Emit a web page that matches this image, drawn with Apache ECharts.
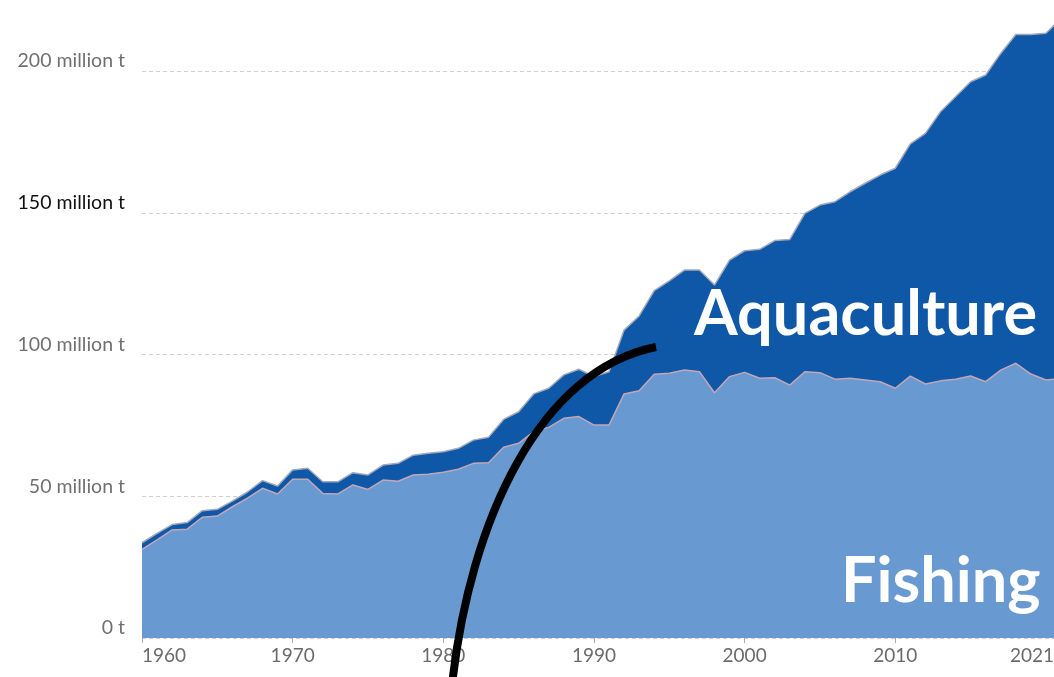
<!DOCTYPE html>
<html>
<head>
<meta charset="utf-8">
<title>Fishing and aquaculture production</title>
<script src="https://cdn.jsdelivr.net/npm/echarts@6/dist/echarts.min.js"></script>
<style>
  html, body { margin: 0; padding: 0; background: #ffffff; }
  #chart { width: 1054px; height: 677px; }
</style>
</head>
<body>
<div id="chart"></div>
<script>
// Years on the horizontal axis
const years = [];
for (let y = 1960; y <= 2021; y++) years.push(String(y));

// Capture fisheries production, million tonnes
const fishing = [
  31.3, 34.6, 38.1, 38.4, 42.6, 43.0, 46.3, 49.3, 52.8, 50.8,
  56.0, 56.0, 51.0, 50.8, 54.0, 52.4, 55.7, 55.3, 57.5, 57.8,
  58.5, 59.5, 61.6, 61.8, 67.3, 68.7, 72.8, 74.3, 77.5, 78.1,
  75.1, 75.1, 86.1, 87.2, 93.0, 93.4, 94.5, 93.9, 86.5, 92.2,
  93.7, 91.6, 91.8, 89.2, 93.9, 93.6, 91.3, 91.6, 91.0, 90.4,
  88.1, 92.4, 89.6, 90.7, 91.3, 92.4, 90.4, 94.5, 96.9, 93.1,
  91.0, 91.5
];

// Aquaculture production, million tonnes (stacked on top of fishing)
const aquaculture = [
  2.3, 2.3, 1.9, 2.3, 2.3, 2.4, 2.0, 2.2, 2.7, 2.8,
  3.3, 3.9, 4.1, 4.3, 4.3, 5.1, 5.3, 6.3, 7.0, 7.4,
  7.2, 7.4, 8.2, 9.0, 9.8, 11.1, 13.3, 13.8, 15.3, 16.7,
  17.1, 18.8, 22.5, 26.4, 29.5, 32.6, 35.3, 35.9, 38.0, 41.1,
  42.9, 45.5, 48.4, 51.4, 55.9, 59.1, 62.6, 65.8, 69.4, 72.9,
  77.6, 81.9, 88.4, 94.9, 99.6, 103.8, 108.2, 111.7, 116.0, 119.8,
  122.3, 127.0
];

// Years that carry a tick and a label
const labelledYears = ['1960', '1970', '1980', '1990', '2000', '2010', '2021'];

// Value-axis ticks (million tonnes) and their labels
const yTicks = [0, 50, 100, 150, 200];
const yTickLabels = ['0 t', '50 million t', '100 million t', '150 million t', '200 million t'];

const chart = echarts.init(document.getElementById('chart'), null, { renderer: 'canvas' });

const showYear = (idx) => labelledYears.indexOf(years[idx]) !== -1;
const lastYear = years[years.length - 1];

chart.setOption({
  animation: false,
  backgroundColor: '#ffffff',
  // the plot runs a little past the right edge, so the last year sits just off-canvas
  grid: {
    left: 142, width: 919, top: 71, bottom: 39,
    containLabel: false,
    outerBoundsMode: 'none'
  },
  xAxis: {
    type: 'category',
    data: years,
    boundaryGap: false,
    axisLine: { show: false },
    axisTick: {
      show: true,
      length: 5,
      lineStyle: { color: '#aaaaaa', width: 1 },
      interval: (idx) => showYear(idx)
    },
    axisLabel: {
      interval: (idx) => showYear(idx),
      color: '#6b6b6b',
      fontFamily: 'Lato',
      fontSize: 19,
      margin: 8,
      alignMinLabel: 'left',
      alignMaxLabel: 'right',
      // keep the final year label inside the canvas
      formatter: (v) => (v === lastYear ? '{last|' + v + '}' : v),
      rich: {
        last: { color: '#6b6b6b', fontFamily: 'Lato', fontSize: 19, padding: [0, 7, 0, 0] }
      }
    },
    splitLine: { show: false }
  },
  yAxis: {
    type: 'value',
    min: 0,
    max: 200,
    interval: 50,
    axisLine: { show: false },
    axisTick: { show: false },
    axisLabel: {
      margin: 17,
      fontFamily: 'Lato',
      fontSize: 19.5,
      verticalAlign: 'bottom',
      color: (v) => (Number(v) === 150 ? '#111111' : '#707070'),
      formatter: (v) => {
        const i = yTicks.indexOf(v);
        return i === -1 ? '' : yTickLabels[i];
      }
    },
    splitLine: {
      show: true,
      lineStyle: { color: '#cfcfcf', type: [4, 3], width: 1 }
    }
  },
  series: [
    {
      name: 'Fishing',
      type: 'line',
      stack: 'total',
      data: fishing,
      symbol: 'none',
      clip: false,
      z: 3,
      lineStyle: { color: '#c2a6b8', width: 1.5 },
      areaStyle: { color: '#6899d0', opacity: 1 }
    },
    {
      name: 'Aquaculture',
      type: 'line',
      stack: 'total',
      data: aquaculture,
      symbol: 'none',
      clip: false,
      z: 2,
      lineStyle: { color: '#a3a9ba', width: 1.5 },
      areaStyle: { color: '#0e58a7', opacity: 1 }
    }
  ],
  graphic: [
    {
      type: 'text',
      z: 10,
      left: 694,
      top: 283,
      style: {
        text: 'Aquaculture',
        fill: '#ffffff',
        font: 'bold 63px Lato'
      }
    },
    {
      type: 'text',
      z: 10,
      left: 841,
      top: 550,
      style: {
        text: 'Fishing',
        fill: '#ffffff',
        font: 'bold 63px Lato'
      }
    },
    {
      type: 'bezierCurve',
      z: 11,
      shape: {
        x1: 452, y1: 685,
        cpx1: 470, cpy1: 520,
        cpx2: 540, cpy2: 370,
        x2: 656, y2: 347
      },
      style: { stroke: '#000000', lineWidth: 8, fill: null, lineCap: 'butt' }
    }
  ]
});
</script>
</body>
</html>
